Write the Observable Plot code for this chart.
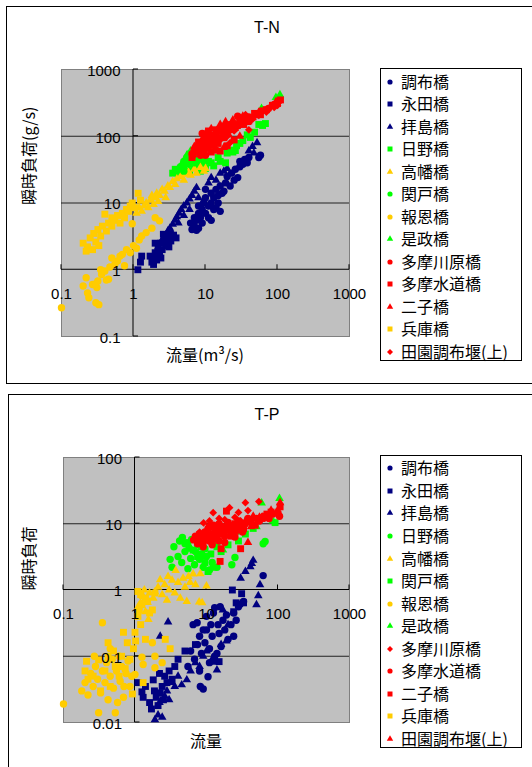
<!DOCTYPE html>
<html><head><meta charset="utf-8">
<script src="https://cdn.jsdelivr.net/npm/d3@7"></script>
<script src="https://cdn.jsdelivr.net/npm/@observablehq/plot@0.6"></script>
<style>
html,body{margin:0;padding:0;background:#fff}
body{width:532px;height:767px;overflow:hidden;position:relative;font-family:"Noto Sans CJK JP","Noto Sans",sans-serif}
.frame{position:absolute;border:1px solid #000;background:transparent}
.title{position:absolute;transform:translate(-50%,-50%);font-family:"Liberation Sans",Arial,sans-serif;font-size:16px;color:#000;white-space:nowrap}
.chart{position:absolute;left:0}
.legend{position:absolute;border:1px solid #000;background:#fff}
.row{position:absolute;left:0;height:22px;line-height:22px;font-size:16px;white-space:nowrap;color:#000}
.row svg{position:absolute;left:4px;top:6px}
.row span{position:absolute;left:20px;top:-1px}
</style></head>
<body>
<div class="frame" style="left:6px;top:6px;width:540px;height:376px"></div>
<div class="frame" style="left:8px;top:394px;width:540px;height:400px"></div>
<div class="title" style="left:267px;top:28px">T-N</div>
<div class="title" style="left:267px;top:415px">T-P</div>
<div id="c1" class="chart" style="top:0px"></div>
<div id="c2" class="chart" style="top:385px"></div>
<div id="leg1" class="legend" style="left:380px;top:68px;width:140px;height:291px"></div>
<div id="leg2" class="legend" style="left:380px;top:455px;width:140px;height:291px"></div>
<script>
// ---------- axes / labels ----------
const xTicks = [0.1, 1, 10, 100, 1000];
const xTickLabels = ["0.1", "1", "10", "100", "1000"];
const tnYTicks = [0.1, 1, 10, 100, 1000];
const tnYTickLabels = ["0.1", "1", "10", "100", "1000"];
const tpYTicks = [0.01, 0.1, 1, 10, 100];
const tpYTickLabels = ["0.01", "0.1", "1", "10", "100"];
const tnGrid = [10, 100];
const tpGrid = [0.1, 10];
const axisCross = 1;
const tnTitleX = "流量(m³/s)", tnTitleY = "瞬時負荷(g/s)";
const tpTitleX = "流量", tpTitleY = "瞬時負荷";

// ---------- T-N series ----------
const tnNames = ["調布橋","永田橋","拝島橋","日野橋","高幡橋","関戸橋","報恩橋","是政橋","多摩川原橋","多摩水道橋","二子橋","兵庫橋","田園調布堰(上)"];
const tnColors = ["#000080","#000080","#000080","#00ff00","#ffcc00","#00ff00","#ffcc00","#00ff00","#ff0000","#ff0000","#ff0000","#ffcc00","#ff0000"];
const tnSymbols = ["circle","square","triangle","square","triangle","circle","circle","triangle","circle","square","triangle","square","diamond2"];

const tnChofu = [[6.2,5],[6.5,4],[7,4.5],[7,6],[7.5,5.5],[8,4.2],[8,7],[8.5,6],[9,8],[9,5],[9.5,10],[10,7],[10,12],[11,9],[11,6],[12,10],[12,14],[13,8],[13,12],[14,16],[15,10],[15,13],[16,7.5],[16,18],[18,15],[19,20],[20,25],[22,18],[23,28],[25,22],[26,32],[28,24],[30,35],[30,42],[33,38],[35,45],[38,40],[40,48],[55,48],[58,52],[10,16],[8,9],[12,5.5],[14,8.5],[7.5,3.9],[17,14]];
const tnNagata = [[1.15,1.0],[1.25,1.3],[1.3,1.6],[1.8,1.3],[1.9,1.5],[2,1.8],[2.1,1.4],[2.2,2.1],[2.3,1.7],[2.4,2.5],[2.5,2.0],[2.7,2.8],[2.8,2.3],[3,3.2],[3.3,2.7],[3.6,3.3],[3.9,3.0],[2,2.5],[2.6,3.4],[3.1,2.2],[1.9,1.2],[2.4,1.5],[1.7,1.6]];
const tnHaijima = [[2.2,2.2],[2.4,2.6],[2.6,3],[2.8,3.3],[3,3.8],[3.2,4.2],[3.5,4.8],[3.8,5.5],[4,6.2],[4.3,7],[4.6,8],[5,9],[5.5,10],[6,11.5],[6.5,13],[7,15],[7.5,17],[3.4,3.6],[4.2,5],[5,6.5],[6,8],[8,12],[9,10],[11,20],[12,24],[14,22],[16,28],[18,30],[20,33],[40,60],[45,70],[52,80],[47,56]];
const tnHino = [[3.5,28],[3.8,32],[4.2,26],[5,35],[6,30],[7,34],[8,38],[8.5,30],[9,36],[10,33],[11,42],[12,40],[13,36],[15,48],[16,42],[19,40],[20,56],[22,62],[24,58],[26,61],[27,72],[30,78],[33,86],[38,105],[42,96],[48,115],[55,150],[62,145],[68,155],[9.5,44]];
const tnTakahata = [[1.1,7],[1.2,8.5],[1.3,7.5],[1.4,9],[1.5,10],[1.6,8.5],[1.7,11],[1.8,13],[2,12],[2.1,14],[2.3,13],[2.5,16],[2.7,15],[3,18],[3.2,17],[3.5,21],[3.8,19],[4,23],[4.5,25],[5,22],[5.2,27],[5.8,29],[6.2,26],[7,32],[7.5,28],[8.5,34],[9.5,30],[2.2,10.5],[1.9,9.5],[2.8,12],[10,33]];
const tnSekido = [[4.5,35],[5,42],[5.5,48],[6,55],[6.5,45],[7,40],[5,30],[4.2,32],[6,38],[7.5,50]];
const tnHoon = [[0.1,0.27],[0.2,0.57],[0.22,0.76],[0.23,0.45],[0.24,0.38],[0.27,0.6],[0.3,0.32],[0.31,0.54],[0.32,0.68],[0.33,0.3],[0.36,0.85],[0.4,0.96],[0.42,0.7],[0.45,0.72],[0.47,1.1],[0.5,1.5],[0.55,1.2],[0.6,1.35],[0.65,1.6],[0.7,1.7],[0.75,1.15],[0.8,2.0],[0.9,1.8],[1.0,2.3],[1.1,2.1],[1.2,2.8],[1.3,3.2],[1.5,3.6],[1.8,4.2],[2,6],[2.3,5.4],[0.96,4.9],[0.35,1.0],[0.3,0.62]];
const tnKoremasa = [[4.8,40],[5.5,52],[6.2,60],[7,48],[108,420],[95,380],[60,260],[3.8,30],[8,45]];
const tnTamagawara = [[6.5,55],[7,62],[8,70],[8.5,52],[9,80],[10,65],[11,90],[12,75],[13,100],[15,95],[16,120],[18,110],[20,140],[22,125],[25,150],[28,200],[30,165],[35,180],[40,195],[50,210],[60,240],[75,260],[90,300],[105,340],[10,52],[14,62],[9,110]];
const tnTamasuido = [[6.5,48],[7.5,58],[8,82],[9,62],[10,95],[11,72],[12,105],[13,85],[14,125],[15,78],[17,140],[18,95],[20,115],[23,150],[26,135],[30,185],[34,150],[40,170],[48,220],[58,210],[70,250],[85,290],[100,310],[110,350],[12,58],[16,60],[20,72],[25,88],[11,120]];
const tnFutako = [[7,70],[8,60],[9,90],[10,110],[11,85],[12,130],[14,115],[16,150],[17,100],[19,165],[21,105],[24,175],[27,140],[33,200],[38,160],[45,190],[55,230],[65,240],[80,280],[95,330],[18,68],[30,100]];
const tnHyogo = [[0.2,2.5],[0.22,1.9],[0.23,2.2],[0.25,3],[0.27,2],[0.28,3.5],[0.3,2.6],[0.32,4],[0.35,3.2],[0.37,4.5],[0.4,6.8],[0.42,3.8],[0.45,5],[0.5,4.5],[0.55,5.5],[0.6,6.5],[0.65,5],[0.7,7],[0.75,6],[0.8,8],[0.9,9],[0.96,10],[1.05,8.5],[1.16,14],[1.25,11],[0.33,2.3],[0.5,6],[0.85,7.5]];
const tnDenen = [[6.8,50],[8,75],[9.5,68],[10.5,100],[12,90],[14,110],[16,88],[18,130],[20,100],[25,120],[30,145],[36,210],[45,180],[55,205],[70,230],[90,270],[100,290],[13,70],[22,80],[40,125]];
const tnData = [tnChofu,tnNagata,tnHaijima,tnHino,tnTakahata,tnSekido,tnHoon,tnKoremasa,tnTamagawara,tnTamasuido,tnFutako,tnHyogo,tnDenen];

// ---------- T-P series ----------
const tpNames = ["調布橋","永田橋","拝島橋","日野橋","高幡橋","関戸橋","報恩橋","是政橋","多摩川原橋","多摩水道橋","二子橋","兵庫橋","田園調布堰(上)"];
const tpColors = ["#000080","#000080","#000080","#00ff00","#ffcc00","#00ff00","#ffcc00","#00ff00","#ff0000","#ff0000","#ff0000","#ffcc00","#ff0000"];
const tpSymbols = ["circle","square","triangle","circle","triangle","square","circle","triangle","diamond2","circle","square","square","triangle"];

const tpChofu = [[5.5,0.07],[6,0.12],[6.5,0.3],[6.8,0.09],[7.4,0.32],[7.5,0.15],[8,0.2],[8.2,0.035],[8.5,0.11],[9,0.032],[9,0.25],[9.5,0.16],[10,0.25],[10,0.4],[10.5,0.049],[11,0.13],[11.5,0.3],[12,0.2],[12.5,0.45],[13,0.54],[13,0.1],[14,0.11],[14.5,0.3],[15,0.22],[15.5,0.56],[16,0.14],[17,0.35],[18,0.25],[19,0.42],[20,0.18],[22,0.3],[24,0.45],[24,0.2],[26,0.35],[28,0.56],[29.5,0.61],[33,0.67],[62,1.65],[8,0.06],[11,0.08]];
const tpNagata = [[1.1,0.04],[1.25,0.029],[1.3,0.024],[1.4,0.035],[1.6,0.02],[1.8,0.044],[1.87,0.03],[1.98,0.024],[2.1,0.018],[2.25,0.028],[2.4,0.035],[2.6,0.05],[2.8,0.04],[3,0.06],[3.3,0.045],[3.6,0.07],[4,0.09],[2.2,0.055],[1.7,0.016],[2.5,0.022],[13,0.084],[15,0.083],[23,1.0],[31,0.88],[33,0.64],[26,0.64],[24,0.47],[7,0.15],[5,0.12]];
const tpHaijima = [[1.9,0.011],[2.1,0.013],[2.4,0.012],[2.2,0.02],[2.6,0.025],[2.8,0.03],[3.0,0.022],[3.3,0.04],[3.6,0.035],[4,0.05],[4.5,0.037],[5.3,0.044],[6,0.06],[7,0.08],[8,0.07],[9,0.1],[10,0.12],[12,0.09],[14,0.062],[16,0.15],[19,0.17],[2.25,0.2],[2.9,0.33],[17,0.5],[20,0.3],[35,1.9],[41,2.25],[43,2.5],[56,1.2],[53,0.82],[50,0.6],[30,1.5],[45,2.8]];
const tpHino = [[3.1,2.9],[3.3,2.2],[3.5,4.5],[4,3.2],[4.2,5.5],[4.5,2.6],[5,5],[5,3.8],[5.5,2.1],[5.7,4.3],[6,3],[6.2,5.8],[6.8,2.4],[7,3.8],[7.5,4.8],[8,2.9],[8.5,3.5],[9,2.2],[10,3.2],[11,2],[12,2.6],[14,2.2],[22.6,2.4],[25,3.1],[62,5],[66,5.4],[4.6,6.2],[9.5,4.2]];
const tpTakahata = [[1.1,0.55],[1.2,0.64],[1.3,0.8],[1.4,0.47],[1.5,0.65],[1.54,0.36],[1.6,0.9],[1.8,0.75],[1.9,0.94],[2.1,1.1],[2.25,1.43],[2.4,0.85],[2.6,1.2],[2.8,0.7],[3,1.0],[3.3,1.4],[3.6,0.9],[3.7,1.97],[4,1.3],[4.3,0.75],[4.7,1.5],[5,1.1],[5.3,0.67],[5.6,1.6],[5.9,1.3],[6.5,1.75],[7,1.2],[7.9,0.66],[8.2,1.76],[8.7,0.64],[10,1.15],[2.9,1.6],[1.35,1.0]];
const tpSekido = [[5.5,5.2],[6.5,4],[7.5,3.2],[8.5,4.5],[9.5,2.6],[10.5,1.9],[11.5,3.5],[12.4,2.2],[14,4.5],[16,3.8],[20,4.8],[28,5.5],[35,7],[91,10.4],[45,8.5],[8,6]];
const tpHoon = [[0.1,0.019],[0.18,0.03],[0.2,0.04],[0.22,0.026],[0.24,0.055],[0.26,0.035],[0.28,0.07],[0.3,0.045],[0.31,0.014],[0.33,0.028],[0.35,0.32],[0.35,0.06],[0.38,0.04],[0.4,0.08],[0.42,0.022],[0.45,0.05],[0.48,0.09],[0.5,0.033],[0.53,0.014],[0.55,0.06],[0.57,0.02],[0.6,0.1],[0.62,0.042],[0.65,0.07],[0.69,0.024],[0.75,0.055],[0.8,0.085],[0.85,0.035],[0.9,0.05],[1.0,0.053],[1.25,0.097],[1.3,0.075],[1.75,0.16],[1.9,0.1],[1.9,0.067],[2.4,0.08],[0.27,0.1],[0.45,0.13],[0.7,0.035]];
const tpKoremasa = [[6,4.2],[8.8,3.2],[13,5],[17,4],[30,7.5],[50,9],[59,20.5],[105,24],[70,13],[85,11]];
const tpTamagawara = [[9.1,10.3],[12.4,14.7],[15,12],[21,17.5],[28,14.8],[35,20.8],[38,15.8],[54,21.6],[11,11],[18,11.5],[25,12.5],[8,7.5],[13,9],[16,8.5],[20,9],[30,11],[45,12],[60,13]];
const tpTamasuido = [[6.6,5.7],[7,6.5],[7.5,5],[8,7],[8.5,6],[9,5.2],[9.5,7.5],[10,6.5],[10.5,8.5],[11,5.5],[12,7],[12.5,9.5],[13,6],[14,8],[15,10],[15,5.5],[16,7],[17,9],[18,6.5],[20,8],[20,10.5],[22,7.5],[24,9.5],[26,8],[28,11],[30,9],[35,10],[38,12],[42,10.5],[50,12],[55,11],[65,13],[75,12],[85,14],[100,14.5],[105,13],[9,4.5],[12,4.8],[18,5.2],[25,6.3],[32,7.5]];
const tpFutako = [[7.5,6.2],[9.5,5.8],[11,9],[13,7.5],[14,6],[15.5,2.7],[18,8.5],[19,15.5],[22,6.5],[25,10],[30,4.2],[33,8.5],[40,11],[48,9.5],[60,12],[70,14],[80,15],[107,18],[16,4.2],[12,5.5]];
const tpHyogo = [[1.1,0.95],[1.2,0.85],[1.25,0.6],[1.4,0.75],[1.5,0.68],[1.6,0.45],[1.75,0.5],[1.1,0.4],[1.2,0.3],[1.15,0.5],[1.9,0.9],[0.69,0.23],[1.0,0.23],[0.78,0.16],[1.02,0.17],[0.42,0.16],[1.4,0.18],[2.65,0.18],[3.1,0.13],[0.95,0.13],[0.21,0.084],[0.2,0.06],[0.22,0.045],[0.31,0.088],[0.42,0.1],[0.53,0.07],[0.73,0.065],[0.92,0.027],[0.33,0.03],[1.3,0.04],[0.5,0.12],[0.6,0.05],[0.85,0.09],[0.26,0.05],[0.38,0.06],[0.65,0.1],[0.45,0.035]];
const tpDenen = [[8,5.5],[10,7.5],[12,6.2],[15,8.5],[18,7],[22,9],[28,10],[35,11],[38,5.2],[45,13],[55,12.5],[65,12],[80,16],[95,15],[107,20.8],[25,7.5],[42,9]];
const tpData = [tpChofu,tpNagata,tpHaijima,tpHino,tpTakahata,tpSekido,tpHoon,tpKoremasa,tpTamagawara,tpTamasuido,tpFutako,tpHyogo,tpDenen];

// ---------- drawing ----------
const symbolR = {circle: 3.7, square: 3.9, triangle: 3.2, diamond2: 3.5};
const numFont = "'Liberation Sans', Arial, sans-serif";
const jpFont = "'Noto Sans CJK JP', sans-serif";

function axisTicks(xv, yv, cross) {
  return (index, scales) => {
    const g = d3.create("svg:g").attr("stroke", "#000").attr("stroke-width", 1);
    const x0 = scales.x(cross), y0 = scales.y(cross);
    g.append("line").attr("x1", x0).attr("x2", x0).attr("y1", scales.y(yv[0])).attr("y2", scales.y(yv[yv.length-1]));
    g.append("line").attr("x1", scales.x(xv[0])).attr("x2", scales.x(xv[xv.length-1])).attr("y1", y0).attr("y2", y0);
    for (const v of xv) g.append("line").attr("x1", scales.x(v)).attr("x2", scales.x(v)).attr("y1", y0).attr("y2", y0 - 5);
    for (const v of yv) g.append("line").attr("x1", x0).attr("x2", x0 + 5).attr("y1", scales.y(v)).attr("y2", scales.y(v));
    return g.node();
  };
}

function chart(o) {
  const marks = [
    Plot.frame({fill: "#c0c0c0", stroke: "#808080"}),
    Plot.ruleY(o.grid, {stroke: "#222", strokeWidth: 1}),
    axisTicks(xTicks, o.yTicks, axisCross)
  ];
  o.data.forEach((pts, i) => {
    marks.push(Plot.dot(pts, {x: d => d[0], y: d => d[1], symbol: o.symbols[i], r: symbolR[o.symbols[i]], fill: o.colors[i], stroke: "none"}));
  });
  const xt = xTicks.map((v, i) => ({v, t: xTickLabels[i]}));
  const yt = o.yTicks.map((v, i) => ({v, t: o.yLabels[i]}));
  marks.push(
    Plot.text(xt, {x: "v", y: () => axisCross, text: "t", dy: 24.5, fontSize: 15, fontFamily: numFont, fill: "#000"}),
    Plot.text(yt, {x: () => axisCross, y: "v", text: "t", dx: -13, dy: 1.5, textAnchor: "end", fontSize: 15, fontFamily: numFont, fill: "#000"}),
    Plot.text([o.titleX], {frameAnchor: "bottom", dy: 24.5, dx: -0.5, fontSize: 16, fontFamily: jpFont, fill: "#000"}),
    Plot.text([o.titleY], {frameAnchor: "left", dx: o.ydx, dy: o.ydy, rotate: -90, fontSize: 16, fontFamily: jpFont, fill: "#000"})
  );
  return Plot.plot({
    width: 370, height: o.height,
    marginLeft: o.ml, marginRight: 21, marginTop: o.mt, marginBottom: o.mb,
    x: {type: "log", domain: [0.1, 1000], axis: null},
    y: {type: "log", domain: o.yDomain, axis: null},
    style: {background: "transparent", overflow: "visible"},
    marks
  });
}

document.getElementById("c1").append(chart({
  height: 383, ml: 61, mt: 69, mb: 47, yDomain: [0.1, 1000], grid: tnGrid,
  yTicks: tnYTicks, yLabels: tnYTickLabels, data: tnData, symbols: tnSymbols, colors: tnColors,
  titleX: tnTitleX, titleY: tnTitleY, ydx: -32, ydy: 2
}));
document.getElementById("c2").append(chart({
  height: 382, ml: 63, mt: 72, mb: 45, yDomain: [0.01, 100], grid: tpGrid,
  yTicks: tpYTicks, yLabels: tpYTickLabels, data: tpData, symbols: tpSymbols, colors: tpColors,
  titleX: tpTitleX, titleY: tpTitleY, ydx: -34, ydy: 0.5
}));

// ---------- legends ----------
const legSize = {circle: 21, square: 25, triangle: 18, diamond2: 23};
const d3sym = {circle: d3.symbolCircle, square: d3.symbolSquare, triangle: d3.symbolTriangle, diamond2: d3.symbolDiamond2};
function legend(id, names, colors, symbols, first, step) {
  const box = document.getElementById(id);
  names.forEach((n, i) => {
    const row = document.createElement("div");
    row.className = "row";
    row.style.top = (first + step * i - 11) + "px";
    const svg = d3.create("svg").attr("width", 10).attr("height", 10);
    svg.append("path").attr("transform", "translate(5,5)")
      .attr("d", d3.symbol(d3sym[symbols[i]], legSize[symbols[i]])()).attr("fill", colors[i]);
    row.append(svg.node());
    const sp = document.createElement("span");
    sp.textContent = n;
    row.append(sp);
    box.append(row);
  });
}
legend("leg1", tnNames, tnColors, tnSymbols, 12.7, 22.5);
legend("leg2", tpNames, tpColors, tpSymbols, 12.3, 22.55);
</script>
</body></html>
